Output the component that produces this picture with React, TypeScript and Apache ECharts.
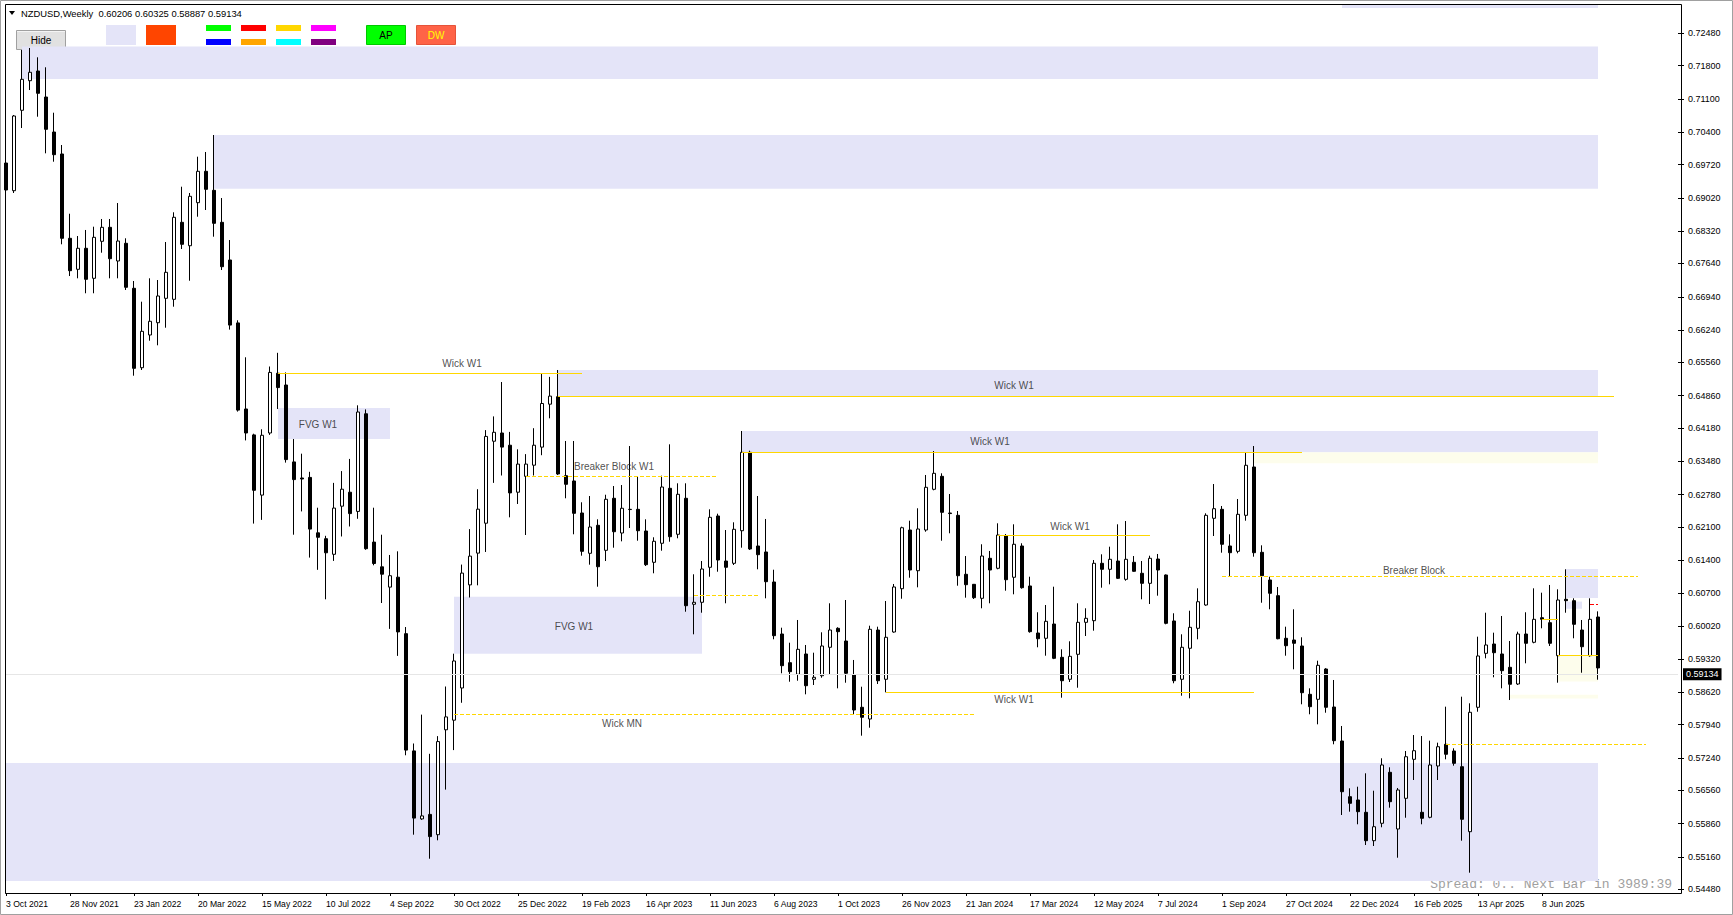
import React, { useEffect, useRef } from "react";
import * as echarts from "echarts";

const FONT = "'Liberation Sans', Arial, sans-serif";
const MONTHS = ["Jan", "Feb", "Mar", "Apr", "May", "Jun", "Jul", "Aug", "Sep", "Oct", "Nov", "Dec"];
const START_UTC = Date.UTC(2021, 9, 3); // first weekly bar: 3 Oct 2021
const CATEGORY_COUNT = 210; // 200 bars + empty shift space on the right
const categories: string[] = Array.from({ length: CATEGORY_COUNT }, (_, i) => {
  const d = new Date(START_UTC + i * 7 * 86400000);
  return `${d.getUTCDate()} ${MONTHS[d.getUTCMonth()]} ${d.getUTCFullYear()}`;
});

const opens = [
  0.69752, 0.6917, 0.70861, 0.71483, 0.71687, 0.7114, 0.70404, 0.69942, 0.68169, 0.67517,
  0.67959, 0.67328, 0.68106, 0.684, 0.67692, 0.68064, 0.67118, 0.65448, 0.66136, 0.66394,
  0.66907, 0.66886, 0.68505, 0.68013, 0.68918, 0.69578, 0.69178, 0.68505, 0.67713, 0.6639,
  0.6458, 0.64035, 0.62769, 0.64075, 0.65332, 0.65084, 0.63467, 0.63129, 0.63141, 0.61976,
  0.61852, 0.61524, 0.62536, 0.6283, 0.62426, 0.64479, 0.61781, 0.61261, 0.60834, 0.61043,
  0.59855, 0.5739, 0.5596, 0.56055, 0.55628, 0.57834, 0.58036, 0.58713, 0.60881, 0.61549,
  0.62178, 0.63902, 0.64075, 0.63818, 0.6283, 0.63164, 0.63398, 0.63778, 0.64681, 0.64838,
  0.63177, 0.63066, 0.62393, 0.61545, 0.62134, 0.61608, 0.62702, 0.61972, 0.6247, 0.6247,
  0.62014, 0.61356, 0.61756, 0.62912, 0.61945, 0.62702, 0.60473, 0.60515, 0.61251, 0.6233,
  0.61383, 0.61335, 0.6202, 0.63669, 0.61699, 0.61573, 0.60942, 0.59848, 0.59245, 0.59001,
  0.59428, 0.58896, 0.58971, 0.59569, 0.59968, 0.59701, 0.58986, 0.58307, 0.58061, 0.59932,
  0.58896, 0.5989, 0.60801, 0.62035, 0.61179, 0.62035, 0.62891, 0.63164, 0.62393, 0.62344,
  0.61104, 0.60893, 0.60599, 0.6144, 0.6123, 0.61915, 0.61041, 0.61699, 0.60858, 0.59869,
  0.59758, 0.60058, 0.59358, 0.58896, 0.59421, 0.60094, 0.60128, 0.61335, 0.61209, 0.61383,
  0.60998, 0.61356, 0.61125, 0.60914, 0.61425, 0.61089, 0.60122, 0.58896, 0.59548, 0.59968,
  0.60458, 0.62281, 0.6247, 0.61699, 0.61587, 0.62344, 0.6336, 0.61566, 0.60984, 0.60654,
  0.59758, 0.59722, 0.59596, 0.5858, 0.58475, 0.59112, 0.58313, 0.57598, 0.56427, 0.56358,
  0.56099, 0.55502, 0.55868, 0.5694, 0.55748, 0.56393, 0.57213, 0.56099, 0.55994, 0.57073,
  0.57529, 0.57388, 0.57058, 0.55691, 0.58307, 0.59442, 0.59638, 0.59428, 0.59148, 0.58797,
  0.59848, 0.59674, 0.60191, 0.60086, 0.59392, 0.60578, 0.60549, 0.59932, 0.59392, 0.60206,
];
const highs = [
  0.69858, 0.70762, 0.72129, 0.72171, 0.71975, 0.71765, 0.7081, 0.70131, 0.68686, 0.68217,
  0.68344, 0.68413, 0.68575, 0.68575, 0.68911, 0.68169, 0.67271, 0.66836, 0.67328, 0.67292,
  0.68091, 0.68716, 0.69254, 0.69122, 0.69885, 0.69984, 0.70341, 0.69016, 0.68133, 0.66445,
  0.65667, 0.6406, 0.64153, 0.65473, 0.65761, 0.65349, 0.63949, 0.6364, 0.63259, 0.62504,
  0.61913, 0.63026, 0.63274, 0.6353, 0.64657, 0.64571, 0.62504, 0.61936, 0.6151, 0.61587,
  0.59995, 0.57546, 0.58153, 0.57329, 0.57701, 0.58744, 0.59434, 0.61308, 0.62054, 0.62893,
  0.64136, 0.64424, 0.65147, 0.64098, 0.63732, 0.63631, 0.64176, 0.65318, 0.65255, 0.654,
  0.63907, 0.63907, 0.62618, 0.6275, 0.6226, 0.62777, 0.6296, 0.62981, 0.63801, 0.6315,
  0.6226, 0.61882, 0.63177, 0.63837, 0.63017, 0.63017, 0.61104, 0.61383, 0.6247, 0.62378,
  0.62035, 0.62197, 0.64117, 0.63703, 0.6275, 0.62267, 0.612, 0.59981, 0.59665, 0.60143,
  0.59617, 0.59455, 0.59884, 0.60494, 0.5999, 0.60563, 0.59302, 0.5874, 0.60023, 0.60002,
  0.60542, 0.609, 0.62105, 0.62231, 0.62492, 0.63192, 0.63696, 0.63227, 0.62792, 0.62435,
  0.61488, 0.609, 0.61735, 0.61594, 0.62176, 0.6195, 0.62155, 0.61756, 0.61053, 0.60305,
  0.60458, 0.60843, 0.59526, 0.59695, 0.60494, 0.60389, 0.61404, 0.61524, 0.61684, 0.62155,
  0.62224, 0.61488, 0.61383, 0.61495, 0.61531, 0.611, 0.60284, 0.59842, 0.60338, 0.60809,
  0.62386, 0.63002, 0.6254, 0.61945, 0.62687, 0.63661, 0.63801, 0.61713, 0.61053, 0.60837,
  0.60002, 0.60368, 0.59779, 0.58706, 0.59287, 0.5913, 0.58881, 0.57914, 0.56604, 0.56637,
  0.56919, 0.56553, 0.57235, 0.57045, 0.5661, 0.57388, 0.57724, 0.57703, 0.57605, 0.57563,
  0.5832, 0.57445, 0.5853, 0.58391, 0.59792, 0.60296, 0.59876, 0.60227, 0.59701, 0.59897,
  0.60305, 0.60809, 0.60717, 0.60879, 0.60788, 0.61209, 0.60599, 0.60143, 0.60599, 0.60325,
];
const lows = [
  0.68722, 0.69122, 0.70488, 0.71287, 0.70726, 0.69956, 0.6978, 0.68043, 0.67376, 0.67328,
  0.67013, 0.67013, 0.67866, 0.67328, 0.67328, 0.67082, 0.6528, 0.654, 0.66016, 0.65919,
  0.66289, 0.66731, 0.67944, 0.67277, 0.68623, 0.68764, 0.68203, 0.67502, 0.66249, 0.64525,
  0.63919, 0.6217, 0.62248, 0.64035, 0.6458, 0.63452, 0.61936, 0.62426, 0.61455, 0.61198,
  0.60578, 0.61385, 0.61899, 0.62109, 0.62271, 0.61619, 0.61293, 0.605, 0.59956, 0.59388,
  0.57298, 0.55628, 0.5594, 0.55123, 0.5551, 0.56576, 0.57407, 0.58402, 0.60616, 0.60872,
  0.61573, 0.63026, 0.63181, 0.62302, 0.62582, 0.6193, 0.63181, 0.63608, 0.64384, 0.63192,
  0.62702, 0.61945, 0.61495, 0.61306, 0.60843, 0.61383, 0.61663, 0.61797, 0.62077, 0.6181,
  0.61278, 0.61125, 0.616, 0.61789, 0.61861, 0.60317, 0.59842, 0.60296, 0.61053, 0.61158,
  0.60494, 0.61299, 0.61663, 0.61615, 0.61209, 0.60599, 0.59737, 0.59022, 0.58845, 0.58866,
  0.5858, 0.58776, 0.58929, 0.59001, 0.58706, 0.58824, 0.58145, 0.5771, 0.57878, 0.58797,
  0.58622, 0.59876, 0.6059, 0.61032, 0.6083, 0.61999, 0.6287, 0.6181, 0.61966, 0.60864,
  0.60612, 0.60584, 0.60389, 0.60494, 0.61209, 0.60759, 0.60683, 0.60801, 0.59876, 0.59569,
  0.59392, 0.5932, 0.58509, 0.58839, 0.58719, 0.59806, 0.59918, 0.60822, 0.60893, 0.61005,
  0.60969, 0.61158, 0.60578, 0.60479, 0.60654, 0.60052, 0.58812, 0.58551, 0.58496, 0.59737,
  0.60443, 0.61909, 0.61558, 0.61068, 0.61545, 0.62231, 0.61474, 0.60506, 0.60368, 0.59737,
  0.59392, 0.59106, 0.5837, 0.5816, 0.57949, 0.58193, 0.57529, 0.56042, 0.56112, 0.55847,
  0.55411, 0.5539, 0.55784, 0.56196, 0.55144, 0.55985, 0.56778, 0.55847, 0.55973, 0.56778,
  0.57213, 0.57079, 0.55502, 0.54829, 0.58214, 0.59337, 0.58938, 0.58706, 0.5846, 0.58776,
  0.59232, 0.59653, 0.59968, 0.59596, 0.58824, 0.60296, 0.59758, 0.59034, 0.59371, 0.58887,
];
const closes = [
  0.69185, 0.70741, 0.71512, 0.7166, 0.71218, 0.70461, 0.69927, 0.68169, 0.67488, 0.67959,
  0.67307, 0.6819, 0.684, 0.6774, 0.68112, 0.67139, 0.65435, 0.66213, 0.66424, 0.66956,
  0.67454, 0.68611, 0.68043, 0.69052, 0.69578, 0.69199, 0.68484, 0.67572, 0.66344, 0.64556,
  0.64075, 0.6287, 0.64027, 0.65349, 0.6503, 0.63516, 0.63095, 0.63108, 0.62054, 0.61882,
  0.61556, 0.62496, 0.62893, 0.6238, 0.64516, 0.61642, 0.61331, 0.61106, 0.61074, 0.59892,
  0.57407, 0.55977, 0.56023, 0.55588, 0.57586, 0.58105, 0.59281, 0.61129, 0.61486, 0.62473,
  0.64003, 0.6409, 0.63778, 0.62815, 0.63421, 0.63421, 0.63818, 0.64695, 0.64851, 0.63213,
  0.62996, 0.62386, 0.61587, 0.62098, 0.61263, 0.62681, 0.61999, 0.62492, 0.62465, 0.6202,
  0.61306, 0.61798, 0.62939, 0.61894, 0.62786, 0.60443, 0.60515, 0.61215, 0.62302, 0.61404,
  0.61251, 0.6205, 0.63669, 0.61636, 0.61516, 0.60948, 0.59813, 0.59182, 0.59056, 0.59526,
  0.58761, 0.58938, 0.59596, 0.59932, 0.59897, 0.59022, 0.5825, 0.58097, 0.59947, 0.58866,
  0.59779, 0.60837, 0.62083, 0.61194, 0.62056, 0.62933, 0.63227, 0.62407, 0.62381, 0.61074,
  0.60885, 0.60612, 0.61488, 0.61194, 0.6193, 0.6099, 0.61735, 0.60822, 0.59897, 0.59749,
  0.60115, 0.59337, 0.58866, 0.59379, 0.60094, 0.60178, 0.61335, 0.61209, 0.61419, 0.61019,
  0.61419, 0.61167, 0.60914, 0.6144, 0.61194, 0.60073, 0.58866, 0.59569, 0.59989, 0.60527,
  0.62344, 0.62483, 0.61735, 0.61558, 0.62365, 0.63396, 0.61558, 0.61074, 0.60704, 0.59749,
  0.59602, 0.59653, 0.58614, 0.5832, 0.5919, 0.58307, 0.57605, 0.56532, 0.56288, 0.56112,
  0.55502, 0.55796, 0.57094, 0.56322, 0.56568, 0.57268, 0.57394, 0.55973, 0.57094, 0.57478,
  0.57319, 0.57129, 0.55952, 0.58202, 0.59386, 0.59617, 0.59455, 0.59077, 0.58791, 0.59848,
  0.59653, 0.60157, 0.60157, 0.59653, 0.60563, 0.60549, 0.60052, 0.59581, 0.60157, 0.59134,
];

const priceTicks = [
  0.7248, 0.718, 0.711, 0.704, 0.6972, 0.6902, 0.6832, 0.6764, 0.6694, 0.6624, 0.6556, 0.6486,
  0.6418, 0.6348, 0.6278, 0.621, 0.614, 0.607, 0.6002, 0.5932, 0.5862, 0.5794, 0.5724, 0.5656,
  0.5586, 0.5516, 0.5448,
];
const Y_MIN = 0.54402;
const Y_MAX = 0.73096;
const LAST_PRICE = 0.59134;

const LAVENDER = "#E4E4F8";
const CREAM = "#FDFDEC";
const GOLD = "#FFD700";

// zones: bar index from/to, price high/low
const zoneFrom = [2, 26, 34, 69, 92, 56, 0, 195, 167, 156, 194, 188, 195];
const zoneTo = [199, 199, 48, 199, 199, 87, 199, 199, 199, 199, 199, 199, 197];
const zoneHigh = [0.722, 0.7034, 0.646, 0.654, 0.64117, 0.60633, 0.57136, 0.61215, 0.73096, 0.63669, 0.594, 0.5857, 0.6053];
const zoneLow = [0.7152, 0.6921, 0.6395, 0.64853, 0.63669, 0.59434, 0.54654, 0.60606, 0.7301, 0.6344, 0.5885, 0.5849, 0.6038];
const zoneColor = [LAVENDER, LAVENDER, LAVENDER, LAVENDER, LAVENDER, LAVENDER, LAVENDER, LAVENDER, LAVENDER, CREAM, CREAM, CREAM, LAVENDER];

// level lines
const lineFrom = [34, 69, 92, 124, 110, 65, 86, 56, 152, 180, 192, 194, 198];
const lineTo = [72, 201, 162, 143, 156, 89, 94, 121, 204, 205, 194, 199, 199];
const linePrice = [0.65326, 0.64853, 0.63669, 0.61916, 0.58622, 0.63171, 0.60662, 0.5816, 0.61068, 0.57529, 0.60157, 0.594, 0.6048];
const lineDashed = [false, false, false, false, false, true, true, true, true, true, false, false, true];
const lineColor = [GOLD, GOLD, GOLD, GOLD, GOLD, GOLD, GOLD, GOLD, GOLD, GOLD, GOLD, GOLD, "#FF0000"];

// text labels
const labelBar = [57, 39, 126, 123, 76, 71, 77, 133, 126, 176];
const labelPrice = [0.65526, 0.64254, 0.65084, 0.63886, 0.63381, 0.59996, 0.57956, 0.62119, 0.58461, 0.61194];
const labelText = ["Wick W1", "FVG W1", "Wick W1", "Wick W1", "Breaker Block W1", "FVG W1", "Wick MN", "Wick W1", "Wick W1", "Breaker Block"];

const headerText = "NZDUSD,Weekly  0.60206 0.60325 0.58887 0.59134";

export default function App() {
  const ref = useRef<HTMLDivElement>(null);

  useEffect(() => {
    if (!ref.current) return;
    const chart = echarts.init(ref.current, null, { renderer: "svg" });
    const labelEvery = (idx: number) => idx % 8 === 0 && idx <= 192;

    const candleData = opens.map((o, i) => [o, closes[i], lows[i], highs[i]]);

    const areaData = zoneFrom.map((f, i) => [
      { coord: [f, zoneHigh[i]], itemStyle: { color: zoneColor[i] } },
      { coord: [zoneTo[i], zoneLow[i]] },
    ]);

    const lineData: any[] = lineFrom.map((f, i) => [
      {
        coord: [f, linePrice[i]],
        lineStyle: { color: lineColor[i], width: 1, type: lineDashed[i] ? [4, 2] : "solid" },
        label: { show: false },
      },
      { coord: [lineTo[i], linePrice[i]] },
    ]);
    lineData.push({
      yAxis: LAST_PRICE,
      lineStyle: { color: "#E6E6E6", width: 1, type: "solid" },
      label: {
        show: true,
        position: "end",
        formatter: LAST_PRICE.toFixed(5),
        color: "#fff",
        backgroundColor: "#000",
        padding: [2, 3, 1, 3],
        fontSize: 9,
        fontFamily: FONT,
        distance: 5,
      },
    });

    const graphic: any[] = [
      // window chrome
      { type: "rect", shape: { x: 0.5, y: 0.5, width: 1732, height: 914 }, style: { fill: "none", stroke: "#A0A0A0", lineWidth: 1 }, silent: true },
      // chart frame (right edge acts as the price-scale line)
      { type: "rect", shape: { x: 5.5, y: 4.5, width: 1676, height: 889 }, style: { fill: "none", stroke: "#000", lineWidth: 1 }, silent: true, z: 10 },
      // header
      { type: "polygon", shape: { points: [[9, 11], [15, 11], [12, 15]] }, style: { fill: "#000" } },
      { type: "text", x: 21, y: 13, style: { text: headerText, font: `9.4px ${FONT}`, fill: "#000", verticalAlign: "middle" } },
      // Hide button
      { type: "rect", shape: { x: 16.5, y: 30.5, width: 49, height: 19 }, style: { fill: "#E1E1E1", stroke: "#A0A0A0", lineWidth: 1 } },
      { type: "line", shape: { x1: 17, y1: 31.5, x2: 65, y2: 31.5 }, style: { stroke: "#F4F4F4", lineWidth: 1 } },
      { type: "text", x: 41, y: 40.5, style: { text: "Hide", font: `10px ${FONT}`, fill: "#000", align: "center", verticalAlign: "middle" } },
      // swatches
      { type: "rect", shape: { x: 106, y: 25, width: 30, height: 20 }, style: { fill: LAVENDER } },
      { type: "rect", shape: { x: 146, y: 25, width: 30, height: 20 }, style: { fill: "#FF4500" } },
      { type: "rect", shape: { x: 206, y: 25, width: 25, height: 6 }, style: { fill: "#00FF00" } },
      { type: "rect", shape: { x: 206, y: 39, width: 25, height: 6 }, style: { fill: "#0000FF" } },
      { type: "rect", shape: { x: 241, y: 25, width: 25, height: 6 }, style: { fill: "#FF0000" } },
      { type: "rect", shape: { x: 241, y: 39, width: 25, height: 6 }, style: { fill: "#FFA500" } },
      { type: "rect", shape: { x: 276, y: 25, width: 25, height: 6 }, style: { fill: "#FFD700" } },
      { type: "rect", shape: { x: 276, y: 39, width: 25, height: 6 }, style: { fill: "#00FFFF" } },
      { type: "rect", shape: { x: 311, y: 25, width: 25, height: 6 }, style: { fill: "#FF00FF" } },
      { type: "rect", shape: { x: 311, y: 39, width: 25, height: 6 }, style: { fill: "#800080" } },
      // AP / DW buttons
      { type: "rect", shape: { x: 366.5, y: 25.5, width: 39, height: 19 }, style: { fill: "#00FF00", stroke: "#00C800", lineWidth: 1 } },
      { type: "text", x: 386, y: 35.5, style: { text: "AP", font: `10px ${FONT}`, fill: "#000", align: "center", verticalAlign: "middle" } },
      { type: "rect", shape: { x: 416.5, y: 25.5, width: 39, height: 19 }, style: { fill: "#FF6347", stroke: "#E5533A", lineWidth: 1 } },
      { type: "text", x: 436, y: 35.5, style: { text: "DW", font: `10px ${FONT}`, fill: "#FFFF00", align: "center", verticalAlign: "middle" } },
      // spread info
      { type: "text", x: 1672, y: 884, style: { text: "Spread: 0.. Next Bar in 3989:39", font: `13px 'Liberation Mono', monospace`, fill: "#A0A0A0", align: "right", verticalAlign: "middle" } },
    ];

    chart.setOption({
      animation: false,
      backgroundColor: "#fff",
      // width 1672 over 209 intervals = 8 px per weekly bar
      grid: { left: 6, right: 55, top: 4, bottom: 22, show: false },
      xAxis: {
        type: "category",
        data: categories,
        boundaryGap: false,
        axisLine: { show: true, lineStyle: { color: "#000", width: 1 } },
        axisTick: { show: true, interval: labelEvery, length: 3, lineStyle: { color: "#000" } },
        axisLabel: {
          interval: labelEvery,
          align: "left",
          margin: 6,
          fontSize: 8.6,
          fontFamily: FONT,
          color: "#000",
        },
        splitLine: { show: false },
      },
      yAxis: {
        type: "value",
        position: "right",
        min: Y_MIN,
        max: Y_MAX,
        axisLine: { show: false },
        axisTick: { show: true, length: 6, customValues: priceTicks, lineStyle: { color: "#000" } },
        axisLabel: {
          customValues: priceTicks,
          formatter: (v: number) => v.toFixed(5),
          margin: 10,
          fontSize: 9,
          fontFamily: FONT,
          color: "#000",
        },
        splitLine: { show: false },
      },
      graphic,
      series: [
        {
          type: "line",
          name: "zones",
          data: [],
          z: 1,
          silent: true,
          markArea: { silent: true, data: areaData },
        },
        {
          type: "candlestick",
          name: "NZDUSD",
          data: candleData,
          z: 3,
          barWidth: 4,
          itemStyle: {
            color: "#FFFFFF",
            color0: "#000000",
            borderColor: "#000000",
            borderColor0: "#000000",
            borderWidth: 1,
          },
        },
        {
          type: "line",
          name: "levels",
          data: [],
          z: 4,
          silent: true,
          markLine: { silent: true, symbol: ["none", "none"], data: lineData },
        },
        {
          type: "scatter",
          name: "labels",
          z: 5,
          symbolSize: 1,
          itemStyle: { color: "rgba(0,0,0,0)" },
          silent: true,
          data: labelBar.map((b, i) => ({
            value: [b, labelPrice[i]],
            label: {
              show: true,
              position: "inside",
              formatter: labelText[i],
              color: "#222",
              fontSize: 10,
              fontFamily: FONT,
            },
          })),
        },
      ],
    });

    return () => chart.dispose();
  }, []);

  return (
    <div
      ref={ref}
      style={{ position: "fixed", left: 0, top: 0, width: 1733, height: 915, background: "#fff" }}
    />
  );
}
